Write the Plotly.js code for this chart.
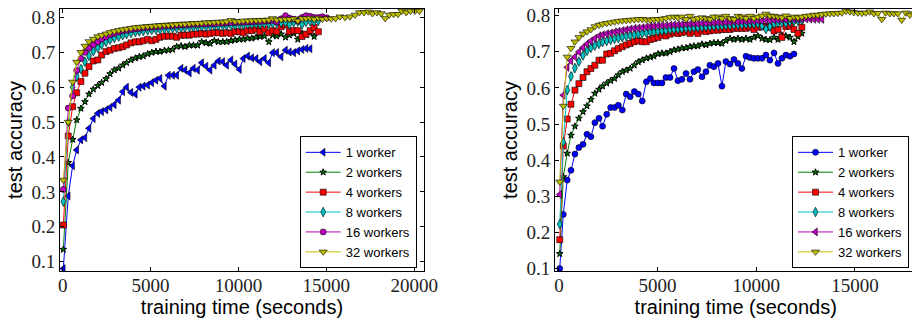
<!DOCTYPE html>
<html>
<head>
<meta charset="utf-8">
<script src="https://cdn.plot.ly/plotly-3.0.1.min.js"></script>
<style>
  html, body { margin: 0; padding: 0; overflow: hidden; background: #fff; }
  #chart { width: 925px; height: 323px; }
</style>
</head>
<body>
<div id="chart"></div>
<script>
// ---- data ----
const seriesNames = ['1 worker', '2 workers', '4 workers', '8 workers', '16 workers', '32 workers'];

// left panel: evaluation times (seconds)
const timeLeft = [40, 320, 570, 800, 1040, 1270, 1500, 1750, 2000, 2220,
  2470, 2700, 2940, 3190, 3420, 3640, 3890, 4140, 4360, 4590,
  4840, 5070, 5310, 5540, 5790, 6020, 6260, 6490, 6740, 6960,
  7210, 7440, 7680, 7910, 8160, 8390, 8630, 8860, 9110, 9330,
  9580, 9810, 10060, 10280, 10530, 10760, 11010, 11230, 11480, 11730,
  11950, 12180, 12430, 12680, 12900, 13150, 13380, 13620, 13850, 14080,
  14310, 14550, 14780, 15030, 15280, 15530, 15780, 16070, 16350, 16640,
  16890, 17150, 17400, 17630, 17880, 18120, 18350, 18580, 18830, 19080,
  19300, 19550, 19800, 20050, 20300];

const accLeft1 = [0.08, 0.288, 0.375, 0.42, 0.449, 0.455, 0.482, 0.51, 0.525, 0.53,
  0.535, 0.542, 0.55, 0.563, 0.587, 0.60, 0.585, 0.58, 0.60, 0.603,
  0.606, 0.613, 0.62, 0.625, 0.603, 0.634, 0.634, 0.634, 0.654, 0.649,
  0.641, 0.654, 0.649, 0.67, 0.66, 0.649, 0.663, 0.675, 0.673, 0.663,
  0.678, 0.666, 0.651, 0.682, 0.689, 0.684, 0.682, 0.673, 0.682, 0.670,
  0.699, 0.699, 0.687, 0.706, 0.701, 0.699, 0.704, 0.708, 0.711, 0.71];

const accLeft2 = [0.135, 0.384, 0.45, 0.506, 0.539, 0.558, 0.58, 0.594, 0.604, 0.613,
  0.624, 0.638, 0.649, 0.654, 0.663, 0.67, 0.678, 0.683, 0.687, 0.689,
  0.695, 0.699, 0.702, 0.702, 0.705, 0.706, 0.708, 0.716, 0.718, 0.716,
  0.72, 0.72, 0.72, 0.73, 0.727, 0.725, 0.733, 0.73, 0.73, 0.73,
  0.733, 0.735, 0.737, 0.737, 0.74, 0.74, 0.743, 0.745, 0.746, 0.73,
  0.749, 0.746, 0.752, 0.743, 0.749, 0.754, 0.737, 0.754, 0.749, 0.756,
  0.745];

const accLeft4 = [0.205, 0.46, 0.544, 0.584, 0.616, 0.64, 0.659, 0.675, 0.678, 0.692,
  0.702, 0.706, 0.711, 0.713, 0.716, 0.721, 0.727, 0.73, 0.73, 0.733,
  0.737, 0.733, 0.737, 0.743, 0.746, 0.746, 0.746, 0.743, 0.749, 0.749,
  0.749, 0.752, 0.752, 0.754, 0.752, 0.754, 0.756, 0.756, 0.754, 0.756,
  0.754, 0.759, 0.759, 0.756, 0.762, 0.762, 0.766, 0.759, 0.766, 0.756,
  0.762, 0.759, 0.773, 0.778, 0.759, 0.762, 0.762, 0.745, 0.752, 0.762,
  0.771, 0.759];

const accLeft8 = [0.272, 0.5, 0.6, 0.63, 0.652, 0.673, 0.69, 0.703, 0.713, 0.722,
  0.73, 0.736, 0.741, 0.745, 0.749, 0.752, 0.755, 0.758, 0.76, 0.761,
  0.763, 0.764, 0.765, 0.766, 0.767, 0.768, 0.769, 0.769, 0.77, 0.771,
  0.772, 0.772, 0.773, 0.774, 0.774, 0.775, 0.776, 0.776, 0.777, 0.777,
  0.778, 0.778, 0.779, 0.779, 0.78, 0.78, 0.781, 0.781, 0.782, 0.782,
  0.783, 0.784, 0.784, 0.785, 0.78, 0.786, 0.788, 0.78, 0.787, 0.789,
  0.788, 0.79];

const accLeft16 = [0.307, 0.54, 0.575, 0.648, 0.682, 0.7, 0.712, 0.722, 0.73, 0.738,
  0.744, 0.75, 0.754, 0.758, 0.761, 0.763, 0.765, 0.767, 0.768, 0.77,
  0.771, 0.772, 0.773, 0.774, 0.775, 0.776, 0.776, 0.777, 0.778, 0.778,
  0.779, 0.78, 0.78, 0.781, 0.781, 0.782, 0.782, 0.783, 0.783, 0.784,
  0.785, 0.785, 0.786, 0.786, 0.787, 0.787, 0.788, 0.788, 0.789, 0.79,
  0.791, 0.787, 0.796, 0.805, 0.798, 0.795, 0.79, 0.8, 0.805, 0.803,
  0.8, 0.8, 0.802, 0.799];

const accLeft32 = [0.334, 0.5, 0.615, 0.672, 0.7, 0.718, 0.731, 0.738, 0.745, 0.749,
  0.753, 0.757, 0.76, 0.763, 0.765, 0.767, 0.769, 0.771, 0.772, 0.773,
  0.774, 0.775, 0.776, 0.777, 0.778, 0.778, 0.779, 0.78, 0.781, 0.781,
  0.782, 0.783, 0.783, 0.784, 0.785, 0.785, 0.786, 0.787, 0.787, 0.788,
  0.792, 0.788, 0.789, 0.79, 0.79, 0.791, 0.791, 0.792, 0.792, 0.793,
  0.797, 0.793, 0.794, 0.795, 0.795, 0.796, 0.79, 0.797, 0.797, 0.798,
  0.795, 0.798, 0.795, 0.797, 0.796, 0.797, 0.802, 0.8, 0.802, 0.807,
  0.814, 0.814, 0.816, 0.811, 0.814, 0.811, 0.797, 0.807, 0.809, 0.809,
  0.818, 0.814, 0.818, 0.818, 0.818];

// right panel: evaluation times (seconds)
const timeRight = [40, 220, 420, 610, 810, 1010, 1220, 1420, 1620, 1820,
  2030, 2210, 2420, 2620, 2820, 3010, 3210, 3410, 3610, 3820,
  4020, 4220, 4430, 4630, 4810, 5020, 5220, 5420, 5630, 5830,
  6030, 6230, 6440, 6640, 6840, 7040, 7250, 7450, 7650, 7850,
  8060, 8260, 8460, 8670, 8870, 9070, 9270, 9480, 9680, 9880,
  10080, 10290, 10490, 10690, 10900, 11100, 11300, 11500, 11710, 11910,
  12110, 12310, 12520, 12720, 12920, 13120, 13330, 13530, 13730, 13930,
  14130, 14340, 14540, 14740, 14940, 15150, 15350, 15550, 15750, 15960,
  16160, 16360, 16560, 16770, 16970, 17170, 17370, 17580, 17780, 17980,
  18180];

const accRight1 = [0.1, 0.25, 0.345, 0.372, 0.417, 0.435, 0.444, 0.472, 0.465, 0.504,
  0.516, 0.494, 0.527, 0.546, 0.546, 0.552, 0.539, 0.583, 0.576, 0.59,
  0.583, 0.564, 0.617, 0.626, 0.614, 0.614, 0.614, 0.629, 0.629, 0.654,
  0.62, 0.624, 0.64, 0.624, 0.645, 0.651, 0.631, 0.645, 0.663, 0.659,
  0.668, 0.605, 0.673, 0.666, 0.679, 0.668, 0.654, 0.688, 0.684, 0.682,
  0.682, 0.682, 0.691, 0.677, 0.697, 0.668, 0.682, 0.691, 0.688, 0.694];

const accRight2 = [0.141, 0.354, 0.419, 0.469, 0.494, 0.516, 0.534, 0.55, 0.568, 0.585,
  0.596, 0.605, 0.613, 0.62, 0.626, 0.636, 0.645, 0.649, 0.654, 0.663,
  0.672, 0.677, 0.682, 0.685, 0.688, 0.694, 0.696, 0.696, 0.7, 0.705,
  0.707, 0.71, 0.711, 0.714, 0.716, 0.716, 0.721, 0.719, 0.723, 0.725,
  0.725, 0.723, 0.731, 0.737, 0.734, 0.737, 0.734, 0.737, 0.734, 0.74,
  0.744, 0.737, 0.734, 0.733, 0.74, 0.734, 0.746, 0.744, 0.74, 0.728,
  0.742, 0.751];

const accRight4 = [0.18, 0.439, 0.514, 0.555, 0.594, 0.612, 0.629, 0.645, 0.654, 0.663,
  0.677, 0.677, 0.694, 0.696, 0.703, 0.709, 0.714, 0.719, 0.723, 0.728,
  0.731, 0.728, 0.728, 0.734, 0.737, 0.74, 0.746, 0.744, 0.749, 0.753,
  0.751, 0.753, 0.756, 0.751, 0.756, 0.751, 0.758, 0.756, 0.758, 0.76,
  0.76, 0.762, 0.762, 0.762, 0.765, 0.765, 0.765, 0.765, 0.768, 0.762,
  0.768, 0.77, 0.77, 0.768, 0.758, 0.762, 0.74, 0.77, 0.771, 0.762,
  0.751, 0.768];

const accRight8 = [0.223, 0.45, 0.594, 0.632, 0.655, 0.673, 0.69, 0.703, 0.711, 0.717,
  0.722, 0.727, 0.73, 0.733, 0.736, 0.738, 0.741, 0.743, 0.745, 0.747,
  0.749, 0.751, 0.753, 0.755, 0.756, 0.757, 0.758, 0.759, 0.761, 0.762,
  0.763, 0.764, 0.765, 0.766, 0.767, 0.767, 0.768, 0.769, 0.77, 0.771,
  0.771, 0.772, 0.773, 0.773, 0.774, 0.775, 0.775, 0.776, 0.777, 0.777,
  0.778, 0.772, 0.763, 0.77, 0.778, 0.78, 0.782, 0.779, 0.783, 0.785,
  0.786, 0.788];

const accRight16 = [0.305, 0.58, 0.657, 0.675, 0.686, 0.7, 0.712, 0.722, 0.73, 0.737,
  0.744, 0.747, 0.75, 0.752, 0.755, 0.757, 0.759, 0.761, 0.763, 0.765,
  0.766, 0.767, 0.769, 0.77, 0.771, 0.772, 0.773, 0.773, 0.774, 0.775,
  0.775, 0.776, 0.777, 0.777, 0.778, 0.778, 0.779, 0.779, 0.78, 0.78,
  0.781, 0.781, 0.782, 0.782, 0.783, 0.783, 0.784, 0.784, 0.785, 0.785,
  0.786, 0.786, 0.787, 0.787, 0.788, 0.788, 0.789, 0.789, 0.79, 0.79,
  0.79, 0.791, 0.791, 0.791, 0.79, 0.79, 0.79];

const accRight32 = [0.34, 0.55, 0.686, 0.71, 0.728, 0.74, 0.75, 0.756, 0.762, 0.77,
  0.774, 0.777, 0.779, 0.781, 0.783, 0.785, 0.786, 0.787, 0.788, 0.789,
  0.79, 0.79, 0.789, 0.788, 0.79, 0.79, 0.791, 0.793, 0.796, 0.797,
  0.795, 0.797, 0.79, 0.799, 0.79, 0.793, 0.795, 0.793, 0.79, 0.797,
  0.797, 0.793, 0.799, 0.793, 0.79, 0.799, 0.797, 0.793, 0.799, 0.793,
  0.797, 0.8, 0.805, 0.8, 0.799, 0.797, 0.795, 0.8, 0.793, 0.797,
  0.795, 0.797, 0.799, 0.8, 0.802, 0.802, 0.804, 0.805, 0.806, 0.806,
  0.807, 0.808, 0.813, 0.811, 0.809, 0.808, 0.807, 0.808, 0.811, 0.806,
  0.807, 0.79, 0.808, 0.806, 0.806, 0.806, 0.788, 0.808, 0.802, 0.806,
  0.806];

const xTicks = [0, 5000, 10000, 15000, 20000];
const yTicks = [0.1, 0.2, 0.3, 0.4, 0.5, 0.6, 0.7, 0.8];

// ---- styles ----
const colors = ['#0000ff', '#008000', '#ff0000', '#00bfbf', '#bf00bf', '#bfbf00'];
const symbolsLeft = ['triangle-left', 'star', 'square', 'diamond-tall', 'circle', 'triangle-down'];
const symbolsRight = ['circle', 'star', 'square', 'diamond-tall', 'triangle-left', 'triangle-down'];
const sizes = {'triangle-left': 7, 'star': 5, 'square': 6, 'diamond-tall': 7, 'circle': 6, 'triangle-down': 7};
const edgeWidths = {'triangle-left': 0.6, 'star': 1, 'square': 0.6, 'diamond-tall': 0.6, 'circle': 0.6, 'triangle-down': 0.6};

const leftData = [accLeft1, accLeft2, accLeft4, accLeft8, accLeft16, accLeft32];
const rightData = [accRight1, accRight2, accRight4, accRight8, accRight16, accRight32];

function makeTrace(ys, times, i, sym, xa, ya, lg) {
  return {
    type: 'scatter', mode: 'lines+markers', name: seriesNames[i],
    x: times.slice(0, ys.length), y: ys,
    xaxis: xa, yaxis: ya, legend: lg,
    line: {color: colors[i], width: 1},
    marker: {symbol: sym, size: sizes[sym], color: colors[i], line: {color: '#000', width: edgeWidths[sym]}},
    cliponaxis: true
  };
}

const traces = [];
leftData.forEach((ys, i) => traces.push(makeTrace(ys, timeLeft, i, symbolsLeft[i], 'x', 'y', 'legend')));
rightData.forEach((ys, i) => traces.push(makeTrace(ys, timeRight, i, symbolsRight[i], 'x2', 'y2', 'legend2')));

const W = 925;
const tickFont = {family: 'Liberation Serif, DejaVu Serif, serif', size: 19, color: '#222'};
const titleFont = {family: 'Liberation Sans, Arial, sans-serif', size: 20, color: '#000'};

function xAxis(domain, range, anchor) {
  return {
    domain: domain, range: range, anchor: anchor,
    tickvals: xTicks, tickformat: 'd',
    ticks: 'inside', ticklen: 4, tickcolor: '#000', tickwidth: 1,
    showline: true, linecolor: '#000', linewidth: 1, mirror: 'ticks',
    showgrid: false, zeroline: false,
    tickfont: tickFont, ticklabelstandoff: -3,
    title: {text: 'training time (seconds)', font: titleFont, standoff: 1}
  };
}
function yAxis(range, anchor) {
  return {
    domain: [0, 1], range: range, anchor: anchor,
    tickvals: yTicks, tickformat: '.1f',
    ticks: 'inside', ticklen: 4, tickcolor: '#000', tickwidth: 1,
    showline: true, linecolor: '#000', linewidth: 1, mirror: 'ticks',
    showgrid: false, zeroline: false,
    tickfont: tickFont,
    title: {text: 'test accuracy', font: titleFont, standoff: 3}
  };
}

const legendBase = {
  bgcolor: '#fff', bordercolor: '#000', borderwidth: 1,
  font: {family: 'Liberation Sans, Arial, sans-serif', size: 13, color: '#000'},
  itemwidth: 35,
  xanchor: 'right', yanchor: 'bottom', y: 0.01, xref: 'paper', yref: 'paper'
};

const layout = {
  width: W, height: 323,
  margin: {l: 0, r: 0, t: 9, b: 52},
  paper_bgcolor: '#fff', plot_bgcolor: '#fff',
  showlegend: true,
  xaxis: xAxis([60 / W, 424 / W], [-150, 20560], 'y'),
  yaxis: yAxis([0.0733, 0.824], 'x'),
  xaxis2: xAxis([555 / W, 916.5 / W], [-200, 18120], 'y2'),
  yaxis2: yAxis([0.0933, 0.8186], 'x2'),
  legend: Object.assign({}, legendBase, {x: 416.7 / W}),
  legend2: Object.assign({}, legendBase, {x: 909 / W})
};

Plotly.newPlot('chart', traces, layout, {displayModeBar: false, staticPlot: true});
</script>
</body>
</html>
